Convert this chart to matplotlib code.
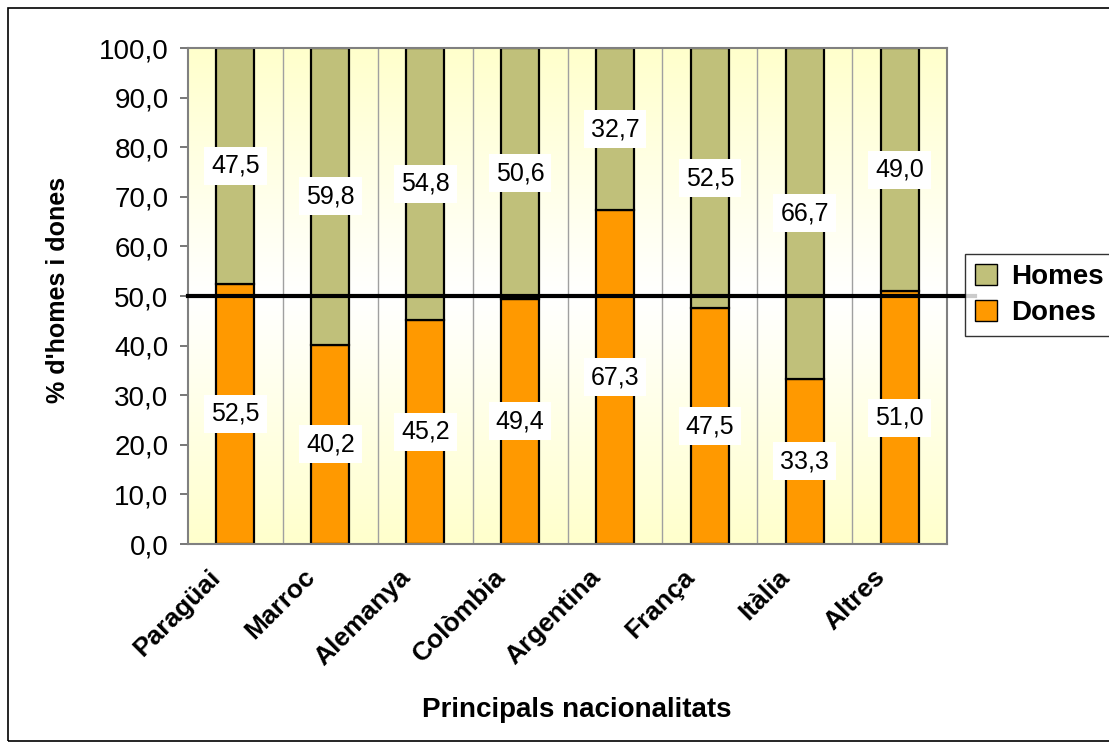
import matplotlib
matplotlib.use("Agg")
import matplotlib.pyplot as plt
import numpy as np
from matplotlib.colors import LinearSegmentedColormap
from matplotlib.patches import Rectangle
from matplotlib.transforms import ScaledTranslation

plt.rcParams['font.family'] = ['Liberation Sans', 'DejaVu Sans']

# Data
nacionalitats = ['Paragüai', 'Marroc', 'Alemanya', 'Colòmbia', 'Argentina', 'França', 'Itàlia', 'Altres']
dones = [52.5, 40.2, 45.2, 49.4, 67.3, 47.5, 33.3, 51.0]
homes = [47.5, 59.8, 54.8, 50.6, 32.7, 52.5, 66.7, 49.0]
y_ticks = [0, 10, 20, 30, 40, 50, 60, 70, 80, 90, 100]

COL_DONES = '#FF9900'
COL_HOMES = '#C0C07A'


def fmt(v):
    return f"{v:.1f}".replace('.', ',')


fig = plt.figure(figsize=(11.09, 7.43), dpi=100)
ax = fig.add_axes([188 / 1109, 1 - 544 / 743, (947 - 188) / 1109, (544 - 48) / 743])

n = len(nacionalitats)
x = np.arange(n)
ax.set_xlim(-0.5, n - 0.5)
ax.set_ylim(0, 100)

# background gradient: pale yellow top and bottom, white in the middle
cmap = LinearSegmentedColormap.from_list('bg', ['#FFFFCC', '#FFFFFF', '#FFFFCC'])
grad = np.linspace(0, 1, 256).reshape(-1, 1)
ax.imshow(grad, cmap=cmap, extent=[-0.5, n - 0.5, 0, 100], aspect='auto', origin='lower', zorder=0)

# category separators
for b in np.arange(0.5, n - 0.5, 1):
    ax.axvline(b, color='#A0A0A0', lw=1, zorder=1)

ax.bar(x, dones, width=0.4, color=COL_DONES, edgecolor='black', lw=1.6, label='Dones', zorder=2)
ax.bar(x, homes, width=0.4, bottom=dones, color=COL_HOMES, edgecolor='black', lw=1.6, label='Homes', zorder=2)

# reference line at 50 %
ax.plot([0, 1.037], [50, 50], color='black', lw=3, transform=ax.get_yaxis_transform(),
        clip_on=False, zorder=5)

box = dict(boxstyle='square,pad=0.28', fc='white', ec='none')
for i in range(n):
    ax.text(x[i], dones[i] / 2, fmt(dones[i]), ha='center', va='center', fontsize=18,
            bbox=box, zorder=6)
    ax.text(x[i], dones[i] + homes[i] / 2, fmt(homes[i]), ha='center', va='center', fontsize=18,
            bbox=box, zorder=6)

ax.set_yticks(y_ticks)
ax.set_yticklabels([fmt(v) for v in y_ticks], fontsize=20)
ax.tick_params(axis='y', length=6, width=1.2, color='#606060', pad=8)
ax.set_xticks(x)
ax.set_xticklabels(nacionalitats, rotation=45, ha='right', va='top', rotation_mode='anchor',
                   fontsize=19, fontweight='bold')
ax.tick_params(axis='x', length=0, pad=15)
for lbl in ax.get_xticklabels():
    lbl.set_transform(lbl.get_transform() + ScaledTranslation(-0.27, 0, fig.dpi_scale_trans))

for s in ax.spines.values():
    s.set_color('#808080')
    s.set_linewidth(1.5)

fig.text(58 / 1109, 1 - 290 / 743, "% d'homes i dones", rotation=90, ha='center', va='center',
         fontsize=18, fontweight='bold')
fig.text(577 / 1109, 1 - 710 / 743, 'Principals nacionalitats', ha='center', va='center',
         fontsize=20, fontweight='bold')

handles, labels = ax.get_legend_handles_labels()
leg = fig.legend(handles[::-1], labels[::-1], loc='upper left', bbox_to_anchor=(965 / 1109, 1 - 254 / 743),
                 prop={'size': 20, 'weight': 'bold'}, frameon=True, fancybox=False,
                 edgecolor='black', handlelength=0.8, handleheight=0.8, handletextpad=0.5,
                 borderpad=0.35, labelspacing=0.35, borderaxespad=0)
leg.get_frame().set_linewidth(1)
for h in leg.legend_handles:
    h.set_linewidth(1)

fig.patches.append(Rectangle((8 / 1109, 1 - 741 / 743), 1.2, (741 - 8) / 743, transform=fig.transFigure,
                             fill=False, ec='black', lw=1.2))

fig.savefig('out.png', dpi=100)
